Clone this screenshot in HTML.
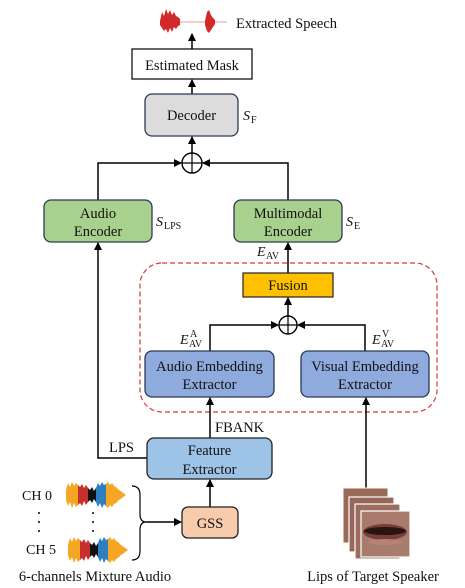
<!DOCTYPE html>
<html><head><meta charset="utf-8"><style>
body{margin:0;background:#fff}
svg{display:block}
text{font-family:"Liberation Serif",serif;fill:#111}
</style></head><body>
<svg width="465" height="588" viewBox="0 0 465 588" xmlns="http://www.w3.org/2000/svg">
<defs>
<marker id="ar" markerWidth="8" markerHeight="8" refX="7" refY="4" orient="auto" markerUnits="userSpaceOnUse">
<path d="M0,0 L8,4 L0,8 z" fill="#000"/></marker>
<g id="wav">
<polygon fill="#f5a623" points="0,8 2,1 4,5 6,0 8,4 10,1 12,3 12,23 10,25 8,21 6,26 4,20 2,24 0,18"/>
<polygon fill="#c8302c" points="12,3 14,5 16,2 18,6 20,3 22,6 22,20 20,23 18,19 16,24 14,21 12,23"/>
<polygon fill="#111" points="22,6 24,8 26,5 28,9 30,6 30,20 28,17 26,21 24,18 22,20"/>
<polygon fill="#2e7fc0" points="30,6 32,1 34,4 36,0 38,3 40,2 40,24 38,22 36,26 34,21 32,25 30,20"/>
<polygon fill="#f5a623" points="40,2 42,0 44,3 46,1 48,4 50,5 53,8 56,10 60,13 56,16 53,18 50,21 48,22 46,25 44,23 42,26 40,24"/>
</g>
</defs>

<!-- top waveform -->
<g fill="#d22a2a">
<polygon points="160,21 162,12 164,16 166,9 168,14 170,10 172,15 174,12 176,16 178,17 180,19 180,25 178,26 176,29 174,27 172,32 170,28 168,33 166,29 164,31 162,28 160,25"/>
<rect x="180" y="21.5" width="25" height="1" fill="#f19a9a"/>
<polygon points="205,21 207,12 209,10 211,15 213,18 215,20 215,24 213,27 211,30 209,33 207,31 205,25"/>
<rect x="215" y="21.5" width="12" height="1" fill="#f19a9a"/>
</g>
<text x="236" y="28" font-size="14.5">Extracted Speech</text>

<line x1="192" y1="49" x2="192" y2="34" stroke="#000" stroke-width="1.5" marker-end="url(#ar)"/>
<rect x="132" y="49" width="120" height="30" fill="#fff" stroke="#000" stroke-width="1.2"/>
<text x="192" y="70" font-size="14.5" text-anchor="middle">Estimated Mask</text>
<line x1="192" y1="94" x2="192" y2="80" stroke="#000" stroke-width="1.5" marker-end="url(#ar)"/>
<rect x="145" y="94" width="93" height="42" rx="7" fill="#dcdcdc" stroke="#2a3a55" stroke-width="1.3"/>
<text x="191.5" y="120" font-size="14.5" text-anchor="middle">Decoder</text>
<text x="243" y="120" font-size="14" font-style="italic">S</text><text x="251" y="123" font-size="10">F</text>

<line x1="192" y1="153" x2="192" y2="137" stroke="#000" stroke-width="1.5" marker-end="url(#ar)"/>
<circle cx="192" cy="163" r="10" fill="#fff" stroke="#000" stroke-width="1.4"/>
<line x1="182" y1="163" x2="202" y2="163" stroke="#000" stroke-width="1.2"/>
<line x1="192" y1="153" x2="192" y2="173" stroke="#000" stroke-width="1.2"/>
<polyline points="98,200 98,163 181,163" fill="none" stroke="#000" stroke-width="1.5" marker-end="url(#ar)"/>
<polyline points="288,200 288,163 203,163" fill="none" stroke="#000" stroke-width="1.5" marker-end="url(#ar)"/>

<rect x="44" y="200" width="108" height="42" rx="7" fill="#a9d18e" stroke="#2a3a55" stroke-width="1.3"/>
<text x="98" y="218" font-size="14.5" text-anchor="middle">Audio</text>
<text x="98" y="236" font-size="14.5" text-anchor="middle">Encoder</text>
<text x="156" y="226" font-size="14" font-style="italic">S</text><text x="164" y="229" font-size="10">LPS</text>
<rect x="234" y="200" width="108" height="42" rx="7" fill="#a9d18e" stroke="#2a3a55" stroke-width="1.3"/>
<text x="288" y="218" font-size="14.5" text-anchor="middle">Multimodal</text>
<text x="288" y="236" font-size="14.5" text-anchor="middle">Encoder</text>
<text x="346" y="226" font-size="14" font-style="italic">S</text><text x="354" y="229" font-size="10">E</text>

<text x="257" y="256" font-size="14" font-style="italic">E</text><text x="266" y="259" font-size="10">AV</text>
<line x1="288" y1="273" x2="288" y2="243" stroke="#000" stroke-width="1.5" marker-end="url(#ar)"/>

<rect x="140" y="263" width="297" height="149" rx="22" fill="none" stroke="#d9363e" stroke-width="1.2" stroke-dasharray="5,3"/>
<rect x="243" y="273" width="90" height="24" fill="#ffc000" stroke="#222" stroke-width="1.2"/>
<text x="288" y="290" font-size="14.5" text-anchor="middle">Fusion</text>
<line x1="288" y1="316" x2="288" y2="298" stroke="#000" stroke-width="1.5" marker-end="url(#ar)"/>
<circle cx="288" cy="325" r="9" fill="#fff" stroke="#000" stroke-width="1.4"/>
<line x1="279" y1="325" x2="297" y2="325" stroke="#000" stroke-width="1.2"/>
<line x1="288" y1="316" x2="288" y2="334" stroke="#000" stroke-width="1.2"/>
<polyline points="210,351 210,325 278,325" fill="none" stroke="#000" stroke-width="1.5" marker-end="url(#ar)"/>
<polyline points="365,351 365,325 298,325" fill="none" stroke="#000" stroke-width="1.5" marker-end="url(#ar)"/>
<text x="180" y="344" font-size="14" font-style="italic">E</text><text x="189" y="347" font-size="10">AV</text><text x="190" y="337" font-size="10">A</text>
<text x="372" y="344" font-size="14" font-style="italic">E</text><text x="381" y="347" font-size="10">AV</text><text x="382" y="337" font-size="10">V</text>

<rect x="145" y="351" width="129" height="46" rx="7" fill="#8faadc" stroke="#2a3a55" stroke-width="1.3"/>
<text x="209.5" y="371" font-size="14.5" text-anchor="middle">Audio Embedding</text>
<text x="209.5" y="389" font-size="14.5" text-anchor="middle">Extractor</text>
<rect x="301" y="351" width="128" height="46" rx="7" fill="#8faadc" stroke="#2a3a55" stroke-width="1.3"/>
<text x="365" y="371" font-size="14.5" text-anchor="middle">Visual Embedding</text>
<text x="365" y="389" font-size="14.5" text-anchor="middle">Extractor</text>

<line x1="210" y1="438" x2="210" y2="398" stroke="#000" stroke-width="1.5" marker-end="url(#ar)"/>
<text x="215" y="432" font-size="14.5">FBANK</text>
<line x1="366" y1="488" x2="366" y2="398" stroke="#000" stroke-width="1.5" marker-end="url(#ar)"/>
<polyline points="147,458 98,458 98,243" fill="none" stroke="#000" stroke-width="1.5" marker-end="url(#ar)"/>
<text x="109" y="452" font-size="14.5">LPS</text>

<rect x="147" y="438" width="125" height="41" rx="7" fill="#9dc3e6" stroke="#222" stroke-width="1.3"/>
<text x="209.5" y="455" font-size="14.5" text-anchor="middle">Feature</text>
<text x="209.5" y="474" font-size="14.5" text-anchor="middle">Extractor</text>
<line x1="210" y1="507" x2="210" y2="480" stroke="#000" stroke-width="1.5" marker-end="url(#ar)"/>
<rect x="182" y="507" width="56" height="31" rx="6" fill="#f8cbad" stroke="#222" stroke-width="1.3"/>
<text x="210" y="528" font-size="14.5" text-anchor="middle">GSS</text>

<path d="M132,486 Q140,486 140,495 L140,514 Q140,522 146,522 Q140,522 140,530 L140,551 Q140,560 132,560" fill="none" stroke="#000" stroke-width="1.2"/>
<line x1="146" y1="522" x2="181" y2="522" stroke="#000" stroke-width="1.5" marker-end="url(#ar)"/>

<text x="22" y="500" font-size="14">CH 0</text>
<text x="26" y="554" font-size="14">CH 5</text>
<g fill="#000"><circle cx="39" cy="513" r="1"/><circle cx="39" cy="522" r="1"/><circle cx="39" cy="531" r="1"/>
<circle cx="93" cy="513" r="1"/><circle cx="93" cy="522" r="1"/><circle cx="93" cy="531" r="1"/></g>
<use href="#wav" x="66" y="482"/>
<use href="#wav" x="68" y="537"/>

<!-- lips -->
<g>
<rect x="343" y="488" width="45" height="55" fill="#9a6a58" stroke="#fff" stroke-width="1"/>
<rect x="349" y="497" width="45" height="55" fill="#96665a" stroke="#fff" stroke-width="1.2"/>
<rect x="355" y="504" width="45" height="55" fill="#9c6c5e" stroke="#fff" stroke-width="1.2"/>
<rect x="361" y="511" width="49" height="46" fill="#a87c6c" stroke="#fff" stroke-width="1.2"/>
<ellipse cx="385" cy="532" rx="22" ry="8" fill="#7a3e38"/>
<ellipse cx="385" cy="531" rx="21" ry="4" fill="#2a1512"/>
<ellipse cx="385" cy="542" rx="17" ry="3" fill="#b88078"/>
</g>

<text x="95" y="581" font-size="14.5" text-anchor="middle">6-channels Mixture Audio</text>
<text x="373" y="581" font-size="14.5" text-anchor="middle">Lips of Target Speaker</text>
</svg>
</body></html>
